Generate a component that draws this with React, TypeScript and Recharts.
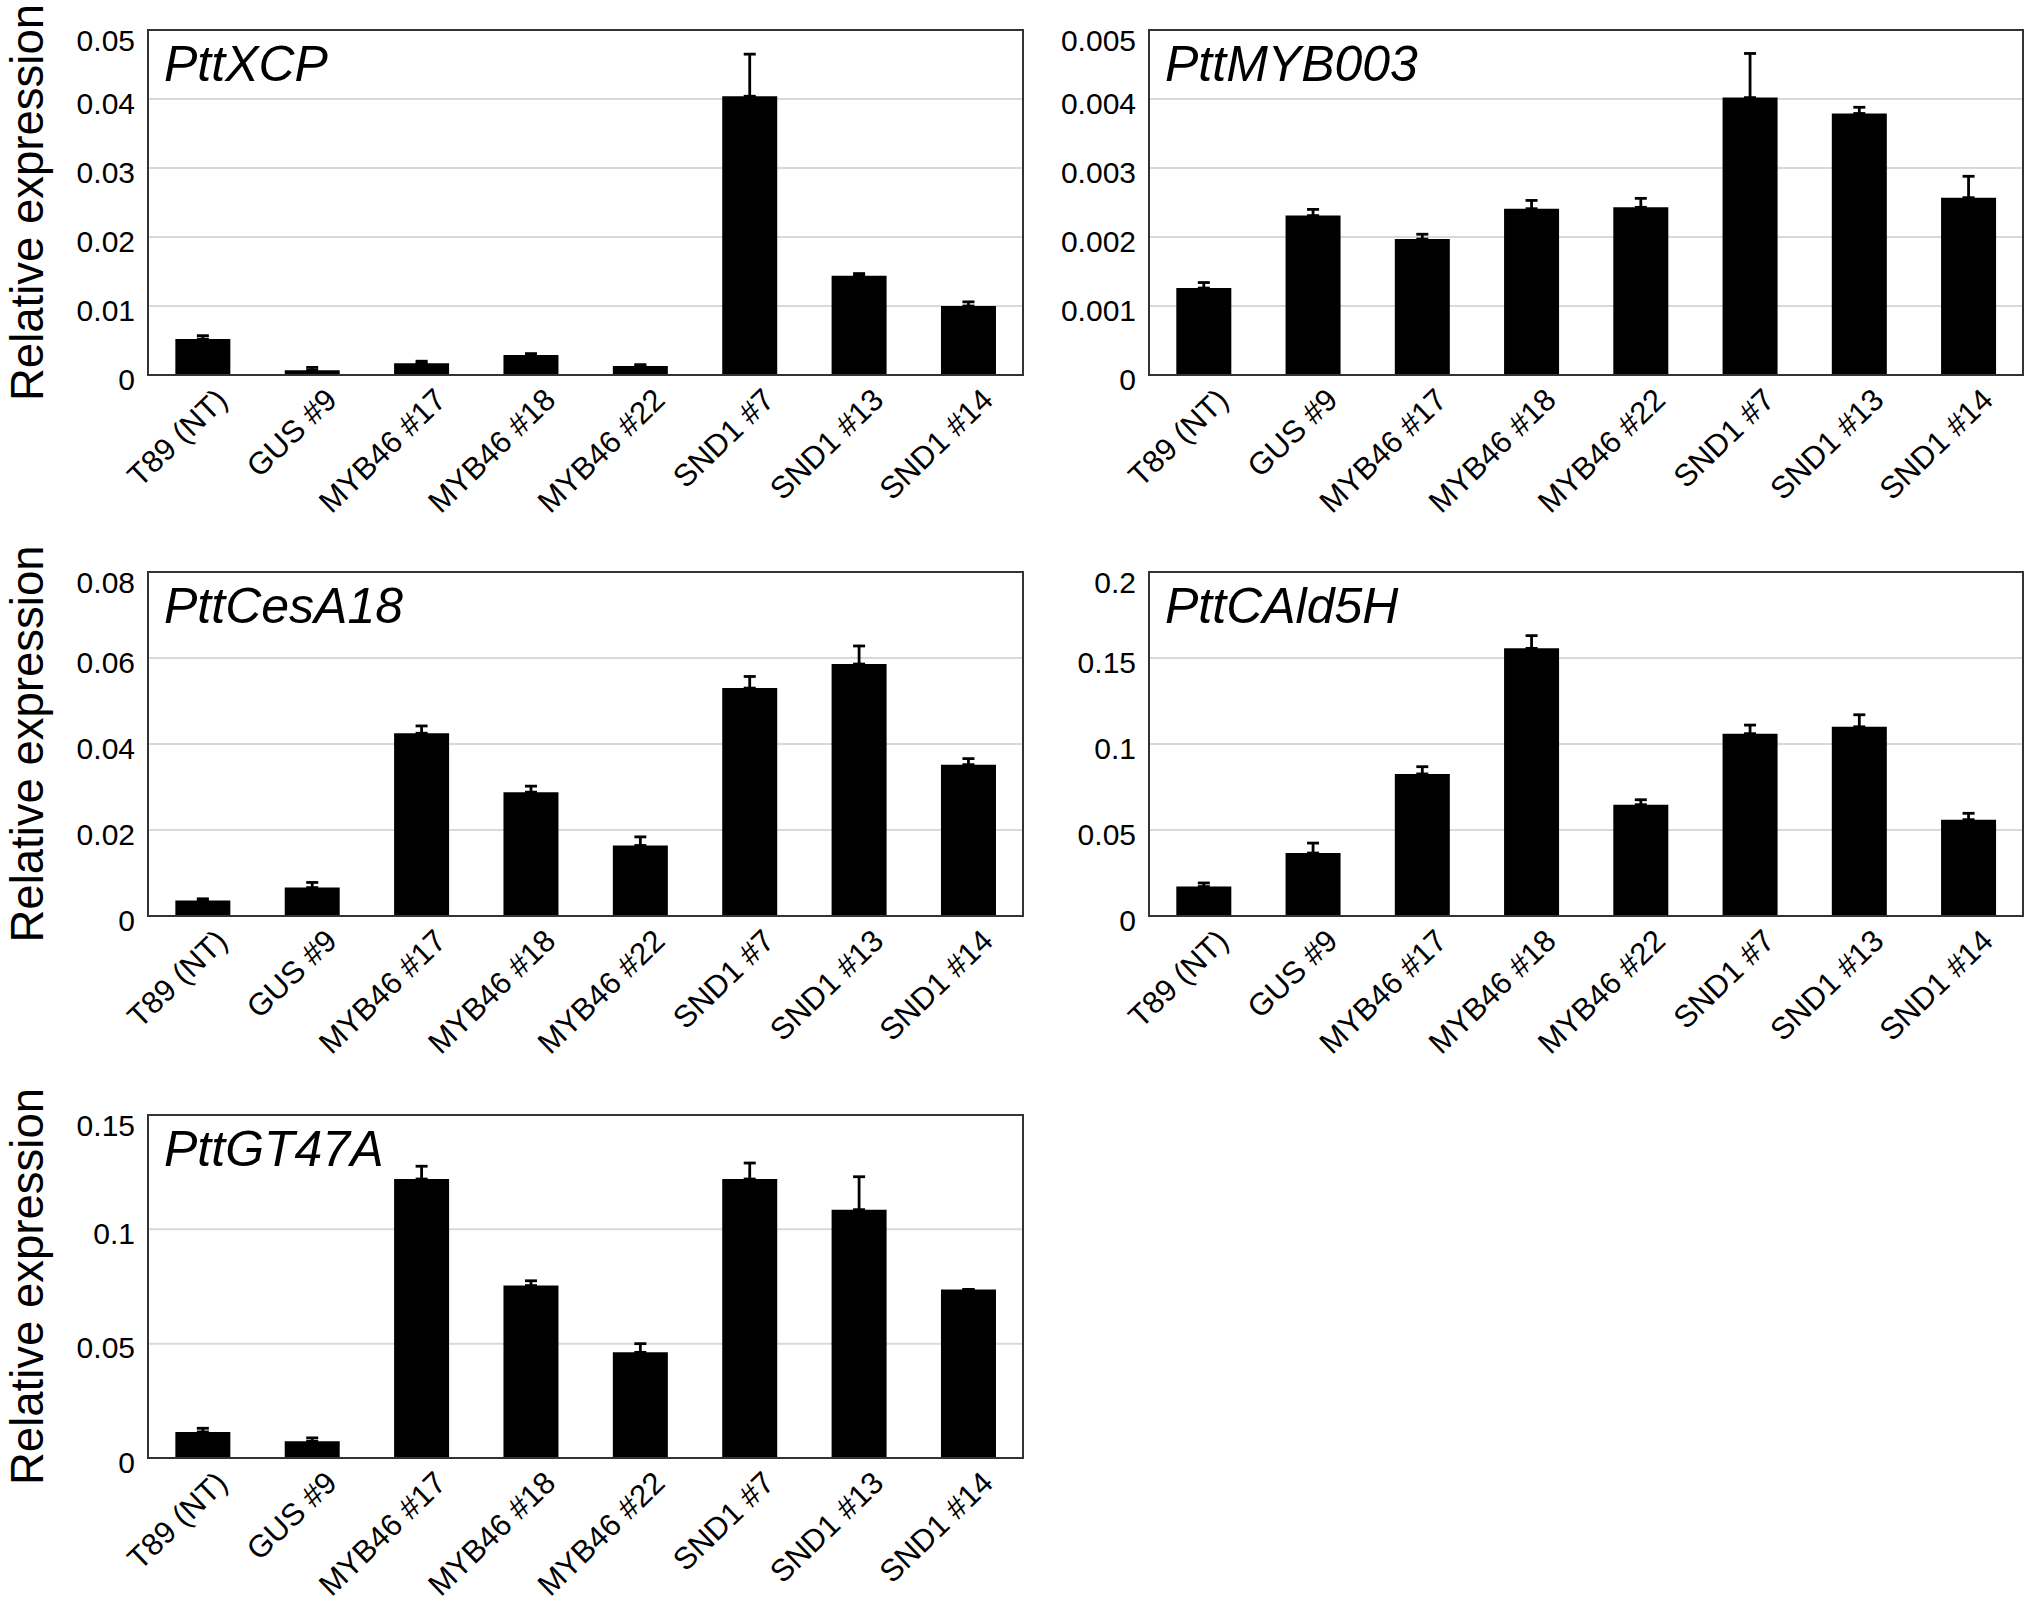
import React from 'react';
import { BarChart, Bar, XAxis, YAxis, CartesianGrid, ErrorBar } from 'recharts';

const categories = ['T89 (NT)', 'GUS #9', 'MYB46 #17', 'MYB46 #18', 'MYB46 #22', 'SND1 #7', 'SND1 #13', 'SND1 #14'];

const xcpValues = [0.0052, 0.0007, 0.0017, 0.0029, 0.0013, 0.0404, 0.0144, 0.0100];
const xcpErrors = [0.0005, 0.0004, 0.0003, 0.0002, 0.0002, 0.0061, 0.0003, 0.0006];
const xcpTicks = [0, 0.01, 0.02, 0.03, 0.04, 0.05];

const myb003Values = [0.00126, 0.00231, 0.00197, 0.00241, 0.00243, 0.00402, 0.00379, 0.00257];
const myb003Errors = [0.00008, 0.00009, 0.00007, 0.00012, 0.00013, 0.00064, 0.00009, 0.00031];
const myb003Ticks = [0, 0.001, 0.002, 0.003, 0.004, 0.005];

const cesaValues = [0.0036, 0.0066, 0.0425, 0.0288, 0.0164, 0.0530, 0.0586, 0.0352];
const cesaErrors = [0.0004, 0.0012, 0.0017, 0.0014, 0.0020, 0.0027, 0.0042, 0.0014];
const cesaTicks = [0, 0.02, 0.04, 0.06, 0.08];

const cald5hValues = [0.0171, 0.0366, 0.0826, 0.1556, 0.0647, 0.1060, 0.1100, 0.0560];
const cald5hErrors = [0.0021, 0.0058, 0.0042, 0.0074, 0.0029, 0.0050, 0.0070, 0.0037];
const cald5hTicks = [0, 0.05, 0.1, 0.15, 0.2];

const gt47aValues = [0.0114, 0.0073, 0.1220, 0.0754, 0.0462, 0.1220, 0.1086, 0.0737];
const gt47aErrors = [0.0016, 0.0015, 0.0056, 0.0021, 0.0038, 0.0070, 0.0144, 0];
const gt47aTicks = [0, 0.05, 0.1, 0.15];

const FONT = '"Liberation Sans", Arial, Helvetica, sans-serif';

type PanelProps = {
  gene: string;
  values: number[];
  errors: number[];
  ticks: number[];
  left: number;
  plotTop: number;
  containerWidth: number;
  yAxisWidth: number;
  plotWidth: number;
  plotHeight: number;
  showYLabel: boolean;
};

const TOP_MARGIN = 30;
const X_AXIS_H = 170;

function YTick(props: any) {
  const { x, y, payload, max } = props;
  const isTop = Math.abs(payload.value - max) < 1e-12;
  const shift = isTop ? 10 : 4;
  return (
    <text x={x} y={y + shift} dy="0.36em" textAnchor="end" fontSize={30} fill="#000" fontFamily={FONT}>
      {String(payload.value)}
    </text>
  );
}

function XTick(props: any) {
  const { x, y, payload } = props;
  return (
    <g transform={`translate(${x + 11},${y + 11})`}>
      <text transform="rotate(-44)" textAnchor="end" dy="0.72em" fontSize={31} fill="#000" fontFamily={FONT}>
        {payload.value}
      </text>
    </g>
  );
}

function Panel(p: PanelProps) {
  const data = categories.map((name, i) => ({ name, value: p.values[i], err: [0, p.errors[i]] }));
  const max = p.ticks[p.ticks.length - 1];
  const rightMargin = p.containerWidth - p.yAxisWidth - p.plotWidth;
  const height = TOP_MARGIN + p.plotHeight + X_AXIS_H;
  const plotLeft = p.yAxisWidth;
  const cy = TOP_MARGIN + p.plotHeight / 2;
  const decorations = () => (
    <g>
      <rect x={plotLeft} y={TOP_MARGIN} width={p.plotWidth} height={p.plotHeight} fill="none" stroke="#333" strokeWidth={2} />
      <text x={plotLeft + 16} y={TOP_MARGIN + 51} fontSize={50} fontStyle="italic" fill="#000" fontFamily={FONT}>
        {p.gene}
      </text>
      {p.showYLabel ? (
        <text
          x={43}
          y={cy}
          transform={`rotate(-90, 43, ${cy})`}
          textAnchor="middle"
          fontSize={45.5}
          fill="#000"
          fontFamily={FONT}
        >
          Relative expression
        </text>
      ) : null}
    </g>
  );
  return (
    <div style={{ position: 'absolute', left: p.left, top: p.plotTop - TOP_MARGIN, width: p.containerWidth, height }}>
      <BarChart
        width={p.containerWidth}
        height={height}
        data={data}
        margin={{ top: TOP_MARGIN, right: rightMargin, bottom: 0, left: 0 }}
        barCategoryGap="25%"
      >
        <CartesianGrid vertical={false} stroke="#d9d9d9" strokeWidth={2} />
        <XAxis
          dataKey="name"
          interval={0}
          tickLine={false}
          tickSize={0}
          tickMargin={0}
          height={X_AXIS_H}
          axisLine={{ stroke: '#222', strokeWidth: 2 }}
          tick={<XTick />}
        />
        <YAxis
          domain={[0, max]}
          ticks={p.ticks}
          interval={0}
          width={p.yAxisWidth}
          tickLine={false}
          tickSize={0}
          tickMargin={13}
          axisLine={{ stroke: '#333', strokeWidth: 2 }}
          tick={<YTick max={max} />}
          label={{ content: decorations }}
        />
        <Bar dataKey="value" fill="#000" isAnimationActive={false}>
          <ErrorBar dataKey="err" direction="y" width={6} strokeWidth={2.8} stroke="#000" />
        </Bar>
      </BarChart>
    </div>
  );
}

export default function App() {
  return (
    <div style={{ position: 'absolute', left: 0, top: 0, width: 2032, height: 1606, background: '#fff', overflow: 'hidden', fontFamily: FONT }}>
      <Panel gene="PttXCP" values={xcpValues} errors={xcpErrors} ticks={xcpTicks}
        left={0} plotTop={30} containerWidth={1030} yAxisWidth={148} plotWidth={875} plotHeight={345} showYLabel />
      <Panel gene="PttMYB003" values={myb003Values} errors={myb003Errors} ticks={myb003Ticks}
        left={1016} plotTop={30} containerWidth={1016} yAxisWidth={133} plotWidth={874} plotHeight={345} showYLabel={false} />
      <Panel gene="PttCesA18" values={cesaValues} errors={cesaErrors} ticks={cesaTicks}
        left={0} plotTop={572} containerWidth={1030} yAxisWidth={148} plotWidth={875} plotHeight={344} showYLabel />
      <Panel gene="PttCAld5H" values={cald5hValues} errors={cald5hErrors} ticks={cald5hTicks}
        left={1016} plotTop={572} containerWidth={1016} yAxisWidth={133} plotWidth={874} plotHeight={344} showYLabel={false} />
      <Panel gene="PttGT47A" values={gt47aValues} errors={gt47aErrors} ticks={gt47aTicks}
        left={0} plotTop={1115} containerWidth={1030} yAxisWidth={148} plotWidth={875} plotHeight={343} showYLabel />
    </div>
  );
}
